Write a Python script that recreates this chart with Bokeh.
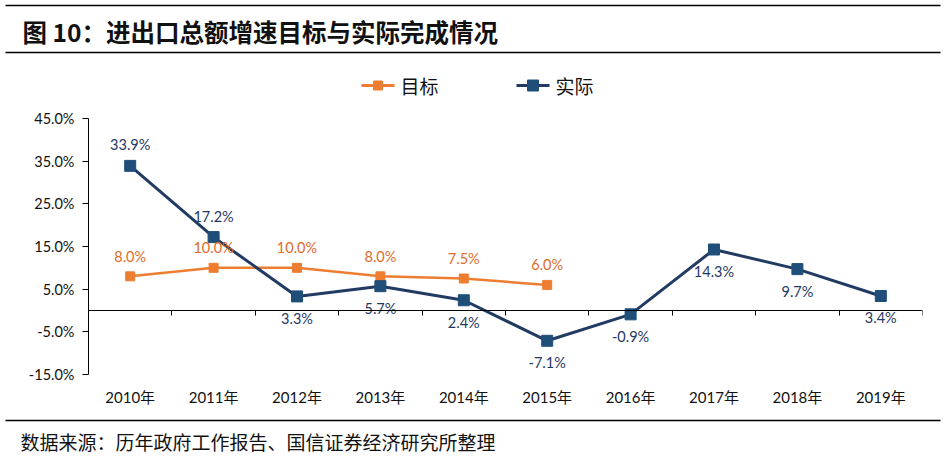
from bokeh.plotting import figure
from bokeh.models import (Range1d, FixedTicker, LinearAxis, CustomJSTickFormatter,
                          PrintfTickFormatter, ColumnDataSource)
from bokeh.core.properties import value
from bokeh.embed import file_html
from bokeh.resources import INLINE

# ---------------- data ----------------
years = ["2010年", "2011年", "2012年", "2013年", "2014年",
         "2015年", "2016年", "2017年", "2018年", "2019年"]
target = [8.0, 10.0, 10.0, 8.0, 7.5, 6.0]
actual = [33.9, 17.2, 3.3, 5.7, 2.4, -7.1, -0.9, 14.3, 9.7, 3.4]
y_ticks = [-15, -5, 5, 15, 25, 35, 45]
title_text = "图 10：进出口总额增速目标与实际完成情况"
source_text = "数据来源：历年政府工作报告、国信证券经济研究所整理"
series_names = ["目标", "实际"]

# ---------------- style ----------------
ORANGE = "#ED7D31"
ORANGE_TXT = "#E26B2A"
NAVY = "#1F4E79"
NAVY_LINE = "#213B63"
NAVY_TXT = "#1F3864"
NUM_FONT = "Lato, 'Noto Sans CJK SC'"
CJK = "Noto Sans CJK SC"
W = 944


def blank(h):
    f = figure(width=W, height=h, x_range=Range1d(0, W), y_range=Range1d(h, 0),
               output_backend="svg", toolbar_location=None, min_border=0,
               x_axis_location=None, y_axis_location=None,
               outline_line_color=None)
    f.grid.visible = False
    return f


# ---------------- header: title, rules, legend ----------------
H_HEAD = 100
head = blank(H_HEAD)
head.segment(x0=[5, 5], y0=[5, 52], x1=[940, 940], y1=[5, 52],
             line_color="black", line_width=1.5)
head.text(x=[22], y=[31], text=[title_text], text_font=value(CJK),
          text_font_style="bold", text_font_size="24.5px", text_baseline="middle",
          text_color="#111111")
leg_x = [361, 516]
leg_colors = [ORANGE, NAVY_LINE]
leg_fill = [ORANGE, NAVY]
leg_size = [9, 11]
for i, name in enumerate(series_names):
    head.segment(x0=[leg_x[i]], y0=[85], x1=[leg_x[i] + 33], y1=[85],
                 line_color=leg_colors[i], line_width=3)
    head.scatter(x=[leg_x[i] + 16.5], y=[85], marker="square", size=leg_size[i],
                 fill_color=leg_fill[i], line_color=leg_fill[i])
    head.text(x=[leg_x[i] + 39], y=[85], text=[name], text_font=value(CJK),
              text_font_size="19px", text_baseline="middle", text_color="#111111")

# ---------------- main chart ----------------
xs = [i + 0.5 for i in range(len(years))]
actual_above = [True, True] + [False] * (len(actual) - 2)

p = figure(width=W, height=318, x_range=Range1d(0, len(years)),
           y_range=Range1d(y_ticks[0], y_ticks[-1]),
           output_backend="svg", toolbar_location=None,
           min_border_left=88, min_border_right=22,
           min_border_top=18, min_border_bottom=44,
           outline_line_color=None)
p.grid.visible = False

ya = p.yaxis[0]
ya.ticker = FixedTicker(ticks=y_ticks)
ya.formatter = PrintfTickFormatter(format="%.1f%%")
ya.major_tick_out = 6
ya.major_tick_in = 0
ya.minor_tick_out = 0
ya.minor_tick_in = 0
ya.axis_line_color = "black"
ya.major_tick_line_color = "black"
ya.major_label_standoff = 8
ya.major_label_text_font = NUM_FONT
ya.major_label_text_font_size = "14.5px"
ya.major_label_text_color = "#111111"

xa = p.xaxis[0]
xa.ticker = FixedTicker(ticks=xs)
xa.formatter = CustomJSTickFormatter(args=dict(labels=years),
                                     code="return labels[Math.floor(tick)]")
xa.axis_line_color = None
xa.major_tick_out = 0
xa.major_tick_in = 0
xa.minor_tick_out = 0
xa.minor_tick_in = 0
xa.major_label_standoff = 13
xa.major_label_text_font = NUM_FONT
xa.major_label_text_font_size = "15px"
xa.major_label_text_color = "#111111"

za = LinearAxis(fixed_location=0, ticker=FixedTicker(ticks=list(range(len(years) + 1))),
                formatter=CustomJSTickFormatter(code="return ''"),
                major_tick_out=0, major_tick_in=5, minor_tick_out=0, minor_tick_in=0,
                major_label_standoff=0,
                axis_line_color="black", major_tick_line_color="black")
p.add_layout(za, "above")

l1 = p.line(xs[:len(target)], target, line_color=ORANGE, line_width=2.5)
s1 = p.scatter(xs[:len(target)], target, marker="square", size=9,
               fill_color=ORANGE, line_color=ORANGE)
l2 = p.line(xs, actual, line_color=NAVY_LINE, line_width=3)
s2 = p.scatter(xs, actual, marker="square", size=11,
               fill_color=NAVY, line_color=NAVY)

t_src = ColumnDataSource(dict(x=xs[:len(target)], y=target,
                              t=[f"{v:.1f}%" for v in target]))
p.text("x", "y", text="t", source=t_src, y_offset=-20, text_align="center",
       text_baseline="middle", text_color=ORANGE_TXT, text_font=value("Lato"),
       text_font_size="14.5px")
a_src = ColumnDataSource(dict(x=xs, y=actual, t=[f"{v:.1f}%" for v in actual],
                              dy=[-21 if a else 22 for a in actual_above]))
p.text("x", "y", text="t", source=a_src, y_offset="dy", text_align="center",
       text_baseline="middle", text_color=NAVY_TXT, text_font=value("Lato"),
       text_font_size="14.5px")

# ---------------- footer ----------------
H_FOOT = 42
foot = blank(H_FOOT)
foot.segment(x0=[5], y0=[2], x1=[940], y1=[2], line_color="black", line_width=1.5)
foot.text(x=[20], y=[23], text=[source_text], text_font=value(CJK),
          text_font_size="19px", text_baseline="middle", text_color="#111111")

open("out.html", "w").write(file_html([head, p, foot], INLINE))
